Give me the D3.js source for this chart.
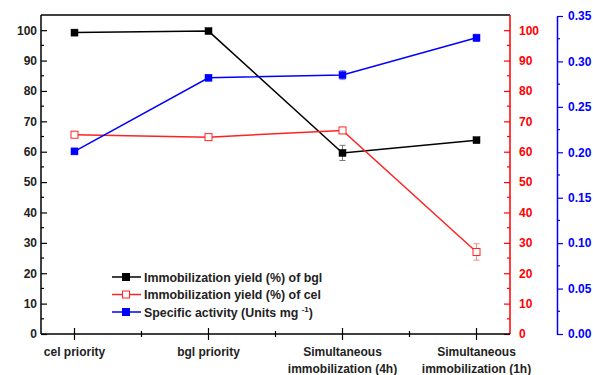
<!DOCTYPE html>
<html><head><meta charset="utf-8">
<script src="https://cdn.jsdelivr.net/npm/d3@7"></script>
<style>body{margin:0;background:#fff}text{font-family:"Liberation Sans",Arial,sans-serif;font-weight:bold}</style>
</head><body>
<svg id="c" width="593" height="375"></svg>
<script>
const categories = [["cel priority"],["bgl priority"],["Simultaneous","immobilization (4h)"],["Simultaneous","immobilization (1h)"]];
const bglYield = [99.2, 99.7, 59.6, 63.8];
const bglErr = [0.5, 0.5, 2.5, 0.6];
const celYield = [65.6, 64.8, 67.0, 27.0];
const celErr = [0.6, 0.6, 0.8, 2.7];
const specAct = [0.201, 0.282, 0.285, 0.326];
const specErr = [0.002, 0.003, 0.005, 0.004];
const leftTicks = [0,10,20,30,40,50,60,70,80,90,100];
const blueTicks = [0,0.05,0.10,0.15,0.20,0.25,0.30,0.35];

const svg = d3.select("#c");
const L=41, R=510, T=15, B=334, BX=557;
const x = d3.scaleLinear().domain([-0.25,3.25]).range([L,R]);
const yL = d3.scaleLinear().domain([0,105]).range([B,T]);
const yB = d3.scaleLinear().domain([0,0.35]).range([B,16]);

// frame top
svg.append("line").attr("x1",L).attr("x2",R).attr("y1",T).attr("y2",T).attr("stroke","#000").attr("stroke-width",1.5);

// left axis
const gl = svg.append("g").attr("transform",`translate(${L},0)`)
  .call(d3.axisLeft(yL).tickValues(leftTicks).tickSize(-6).tickPadding(4).tickSizeOuter(0));
gl.select(".domain").attr("stroke-width",1.5).attr("d",`M0,${T}V${B}`);
gl.selectAll(".tick line").attr("stroke-width",1.2);
gl.selectAll("text").attr("font-size",12).attr("fill","#222");
gl.append("g").selectAll("line").data(d3.range(5,105,10)).join("line")
  .attr("x1",0).attr("x2",3).attr("y1",d=>yL(d)).attr("y2",d=>yL(d)).attr("stroke","#000").attr("stroke-width",1.2);

// right red axis
const gr = svg.append("g").attr("transform",`translate(${R},0)`)
  .call(d3.axisRight(yL).tickValues(leftTicks).tickSize(-6).tickPadding(9).tickSizeOuter(0));
gr.select(".domain").attr("stroke","#f00").attr("stroke-width",1.5).attr("d",`M0,${T}V${B}`);
gr.selectAll(".tick line").attr("stroke","#f00").attr("stroke-width",1.2);
gr.selectAll("text").attr("font-size",12).attr("fill","#f00");
gr.append("g").selectAll("line").data(d3.range(5,105,10)).join("line")
  .attr("x1",0).attr("x2",-3).attr("y1",d=>yL(d)).attr("y2",d=>yL(d)).attr("stroke","#f00").attr("stroke-width",1.2);

// blue axis
const gb = svg.append("g").attr("transform",`translate(${BX},0)`)
  .call(d3.axisRight(yB).tickValues(blueTicks).tickSize(6).tickPadding(5).tickFormat(d3.format(".2f")).tickSizeOuter(0));
gb.select(".domain").attr("stroke","#00f").attr("stroke-width",1.5);
gb.selectAll(".tick line").attr("stroke","#00f").attr("stroke-width",1.2);
gb.selectAll("text").attr("font-size",12).attr("fill","#00f");
gb.append("g").selectAll("line").data(d3.range(0.025,0.35,0.05)).join("line")
  .attr("x1",0).attr("x2",3).attr("y1",d=>yB(d)).attr("y2",d=>yB(d)).attr("stroke","#00f").attr("stroke-width",1.2);

// bottom axis
const gx = svg.append("g").attr("transform",`translate(0,${B})`);
gx.append("line").attr("x1",L).attr("x2",R).attr("stroke","#000").attr("stroke-width",1.5);
gx.selectAll(".maj").data(d3.range(4)).join("line").attr("class","maj")
  .attr("x1",d=>x(d)).attr("x2",d=>x(d)).attr("y1",-6).attr("y2",6).attr("stroke","#000").attr("stroke-width",1.2);
gx.selectAll(".min").data([0.5,1.5,2.5]).join("line").attr("class","min")
  .attr("x1",d=>x(d)).attr("x2",d=>x(d)).attr("y1",-3).attr("y2",3).attr("stroke","#000").attr("stroke-width",1.2);
const xl = gx.selectAll(".lab").data(categories).join("text").attr("class","lab")
  .attr("x",(d,i)=>x(i)).attr("y",22).attr("text-anchor","middle").attr("font-size",12).attr("fill","#222");
xl.selectAll("tspan").data(d=>d).join("tspan").attr("x",function(){return d3.select(this.parentNode).attr("x");})
  .attr("dy",(d,i)=>i?17:0).text(d=>d);

function series(vals, errs, y, color, filled, errColor){
  const g = svg.append("g");
  g.append("path").datum(vals).attr("fill","none").attr("stroke",color).attr("stroke-width",1.5)
    .attr("d",d3.line().x((d,i)=>x(i)).y(d=>y(d)));
  vals.forEach((v,i)=>{
    const e=errs[i];
    g.append("path").attr("stroke",errColor).attr("stroke-width",1).attr("fill","none")
      .attr("d",`M${x(i)},${y(v-e)}V${y(v+e)}M${x(i)-3},${y(v-e)}h6M${x(i)-3},${y(v+e)}h6`);
  });
  g.selectAll("rect").data(vals).join("rect")
    .attr("x",(d,i)=>x(i)-3.5).attr("y",d=>y(d)-3.5).attr("width",7).attr("height",7)
    .attr("fill",filled?color:"#fff").attr("stroke",color).attr("stroke-width",filled?0.5:1);
}
series(bglYield,bglErr,yL,"#000",true,"#777");
series(celYield,celErr,yL,"#f22",false,"#f88");
series(specAct,specErr,yB,"#00f",true,"#88f");

// legend
const leg = [["Immobilization yield (%) of bgl","#000",true],["Immobilization yield (%) of cel","#f22",false],["Specific activity (Units mg ","#00f",true]];
leg.forEach((d,i)=>{
  const yy = 277 + i*17.5;
  svg.append("line").attr("x1",112).attr("x2",141).attr("y1",yy).attr("y2",yy).attr("stroke",d[1]).attr("stroke-width",1.5);
  svg.append("rect").attr("x",122.5).attr("y",yy-3.5).attr("width",7).attr("height",7)
    .attr("fill",d[2]?d[1]:"#fff").attr("stroke",d[1]).attr("stroke-width",1);
  const t = svg.append("text").attr("x",144).attr("y",yy+4.5).attr("font-size",12.4).attr("fill","#222").text(d[0]);
  if(i==2){ t.append("tspan").attr("font-size",8).attr("dy",-5).text("-1"); t.append("tspan").attr("dy",5).text(")"); }
});
</script>
</body></html>
